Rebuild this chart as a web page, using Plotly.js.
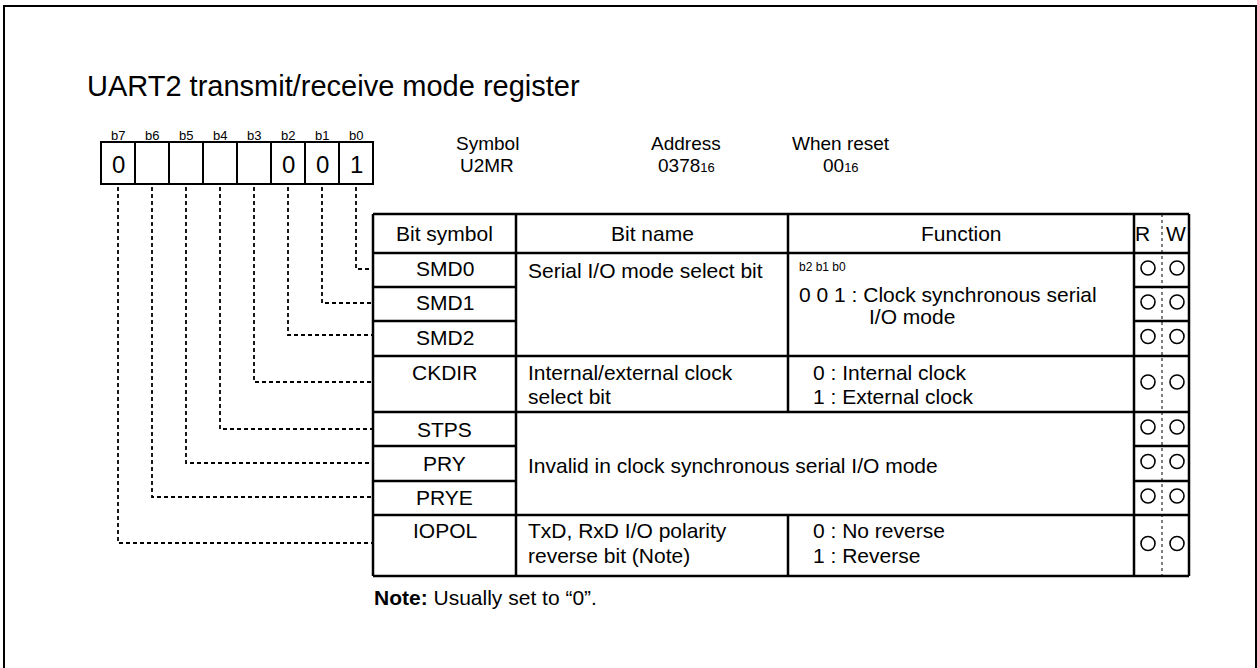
<!DOCTYPE html>
<html>
<head>
<meta charset="utf-8">
<script src="https://cdn.plot.ly/plotly-3.0.1.min.js"></script>
<style>html,body{margin:0;padding:0;background:#fff;}#chart{width:1257px;height:668px;}</style>
</head>
<body>
<div id="chart"></div>
<script>
// ---------- data ----------
const registerTitle = 'UART2 transmit/receive mode register';
const bitLabels = ['b7', 'b6', 'b5', 'b4', 'b3', 'b2', 'b1', 'b0'];
const bitValues = ['0', '', '', '', '', '0', '0', '1'];
const infoHeads = ['Symbol', 'Address', 'When reset'];
const infoValues = ['U2MR', '0378<span style="font-size:13px">16</span>', '00<span style="font-size:13px">16</span>'];
const tableHeaders = ['Bit symbol', 'Bit name', 'Function', 'R', 'W'];
const bitSymbols = ['SMD0', 'SMD1', 'SMD2', 'CKDIR', 'STPS', 'PRY', 'PRYE', 'IOPOL'];
const symbolBitIndex = [7, 6, 5, 4, 3, 2, 1, 0]; // index into bitLabels (b7..b0)
const bitNames = [
  ['Serial I/O mode select bit'],
  ['Internal/external clock', 'select bit'],
  ['TxD, RxD I/O polarity', 'reverse bit (Note)']
];
const functionFieldLabel = 'b2 b1 b0';
const functionTexts = [
  ['0 0 1 : Clock synchronous serial', 'I/O mode'],
  ['0 : Internal clock', '1 : External clock'],
  ['0 : No reverse', '1 : Reverse']
];
const invalidText = 'Invalid in clock synchronous serial I/O mode';
const readable = [true, true, true, true, true, true, true, true];
const writable = [true, true, true, true, true, true, true, true];
const noteText = '<b>Note:</b> Usually set to \u201c0\u201d.';

// ---------- layout geometry ----------
const FONT = 'Liberation Sans, Arial, Helvetica, sans-serif';
const BODY = 21;
const boxX0 = 101, cellW = 34, boxY0 = 142, boxY1 = 184;
const colX = [373, 516, 788, 1134, 1189];
const rwMid = 1162;
const rowY = [214, 253, 287, 321, 356, 412, 446, 481, 515, 576];
const connectorY = [269, 303, 335, 382, 429, 463, 497, 543];

const shapes = [];
const annotations = [];
function line(x0, y0, x1, y1, w, dash) {
  shapes.push({type: 'line', xref: 'x', yref: 'y', x0: x0, y0: y0, x1: x1, y1: y1,
    line: {color: '#000', width: w, dash: dash || 'solid'}});
}
function text(t, x, y, size, xanchor, extra) {
  annotations.push(Object.assign({xref: 'x', yref: 'y', x: x, y: y, text: t, showarrow: false,
    xanchor: xanchor || 'center', yanchor: 'middle', borderpad: 0,
    font: {family: FONT, size: size, color: '#000'}}, extra || {}));
}

// outer frame
shapes.push({type: 'rect', xref: 'x', yref: 'y', x0: 4, y0: 6, x1: 1256, y1: 690, line: {color: '#000', width: 2}});

// title
text(registerTitle, 86, 86, 29, 'left');

// bit box
shapes.push({type: 'rect', xref: 'x', yref: 'y', x0: boxX0, y0: boxY0, x1: boxX0 + cellW * bitLabels.length, y1: boxY1, line: {color: '#000', width: 2}});
bitLabels.forEach(function (lb, i) {
  const cx = boxX0 + cellW * i + cellW / 2;
  if (i > 0) line(boxX0 + cellW * i, boxY0, boxX0 + cellW * i, boxY1, 2);
  text(lb, cx, 135, 13);
  if (bitValues[i]) text(bitValues[i], cx, 164, 24);
});

// symbol / address / reset
const infoX = [487, 686, 841];
infoHeads.forEach(function (h, i) {
  text(h, infoX[i], 143, 19);
  text(infoValues[i], infoX[i], 165, 19);
});

// table grid
line(colX[0], rowY[0], colX[4], rowY[0], 2.5);
line(colX[0], rowY[rowY.length - 1], colX[4], rowY[rowY.length - 1], 2.5);
[0, 1, 3, 4].forEach(function (c) { line(colX[c], rowY[0], colX[c], rowY[rowY.length - 1], 2.5); });
line(colX[2], rowY[0], colX[2], rowY[5], 2.5);
line(colX[2], rowY[8], colX[2], rowY[9], 2.5);
for (let r = 1; r < rowY.length - 1; r++) {
  const major = [1, 4, 5, 8].indexOf(r) >= 0;
  line(colX[0], rowY[r], colX[1], rowY[r], 2.5);
  line(colX[3], rowY[r], colX[4], rowY[r], 2.5);
  if (major) line(colX[1], rowY[r], colX[3], rowY[r], 2.5);
}
line(rwMid, rowY[0], rwMid, rowY[rowY.length - 1], 1, '3px,3px');

// headers
const hy = 233;
text(tableHeaders[0], (colX[0] + colX[1]) / 2, hy, BODY);
text(tableHeaders[1], (colX[1] + colX[2]) / 2, hy, BODY);
text(tableHeaders[2], (colX[2] + colX[3]) / 2, hy, BODY);
text(tableHeaders[3], 1142, hy, BODY);
text(tableHeaders[4], 1176, hy, BODY);

// bit symbols
const symY = [268, 302, 337, 372, 429, 463, 497, 530];
bitSymbols.forEach(function (s, i) { text(s, (colX[0] + colX[1]) / 2, symY[i], BODY); });

// bit names
text(bitNames[0][0], 527, 270, BODY, 'left');
text(bitNames[1][0], 527, 372, BODY, 'left');
text(bitNames[1][1], 527, 396, BODY, 'left');
text(bitNames[2][0], 527, 530, BODY, 'left');
text(bitNames[2][1], 527, 555, BODY, 'left');

// functions
text(functionFieldLabel, 798, 267, 12, 'left');
text(functionTexts[0][0], 798, 294, BODY, 'left');
text(functionTexts[0][1], 912, 316, BODY, 'center');
text(functionTexts[1][0], 812, 372, BODY, 'left');
text(functionTexts[1][1], 812, 396, BODY, 'left');
text(functionTexts[2][0], 812, 530, BODY, 'left');
text(functionTexts[2][1], 812, 555, BODY, 'left');
text(invalidText, 527, 465, BODY, 'left');

// note
text(noteText, 373, 597, BODY, 'left');

// connectors from bits to symbols
bitSymbols.forEach(function (s, i) {
  const bi = symbolBitIndex[i];
  const cx = boxX0 + cellW * bi + cellW / 2;
  const yEnd = connectorY[i];
  shapes.push({type: 'path', xref: 'x', yref: 'y',
    path: 'M ' + cx + ',' + (boxY1 + 3) + ' L ' + cx + ',' + yEnd + ' L ' + colX[0] + ',' + yEnd,
    line: {color: '#000', width: 1.8, dash: '4px,3px'}});
});

// R/W circles
const circCenters = [];
for (let r = 2; r < rowY.length; r++) circCenters.push((rowY[r] + rowY[r - 1]) / 2 - 2);
const rx = [], ry = [], wx = [], wy = [];
bitSymbols.forEach(function (s, i) {
  if (readable[i]) { rx.push(1148); ry.push(circCenters[i]); }
  if (writable[i]) { wx.push(1177); wy.push(circCenters[i]); }
});
const markerStyle = {symbol: 'circle-open', size: 14, color: '#000', line: {width: 1.6, color: '#000'}};
const traces = [
  {type: 'scatter', mode: 'markers', x: rx, y: ry, marker: markerStyle, hoverinfo: 'skip', showlegend: false},
  {type: 'scatter', mode: 'markers', x: wx, y: wy, marker: markerStyle, hoverinfo: 'skip', showlegend: false}
];

const layout = {
  width: 1257, height: 668,
  margin: {l: 0, r: 0, t: 0, b: 0, pad: 0},
  paper_bgcolor: '#fff', plot_bgcolor: '#fff',
  xaxis: {range: [0, 1257], visible: false, fixedrange: true},
  yaxis: {range: [668, 0], visible: false, fixedrange: true},
  shapes: shapes, annotations: annotations, showlegend: false,
  font: {family: FONT}
};
Plotly.newPlot('chart', traces, layout, {displayModeBar: false, staticPlot: true});
</script>
</body>
</html>
